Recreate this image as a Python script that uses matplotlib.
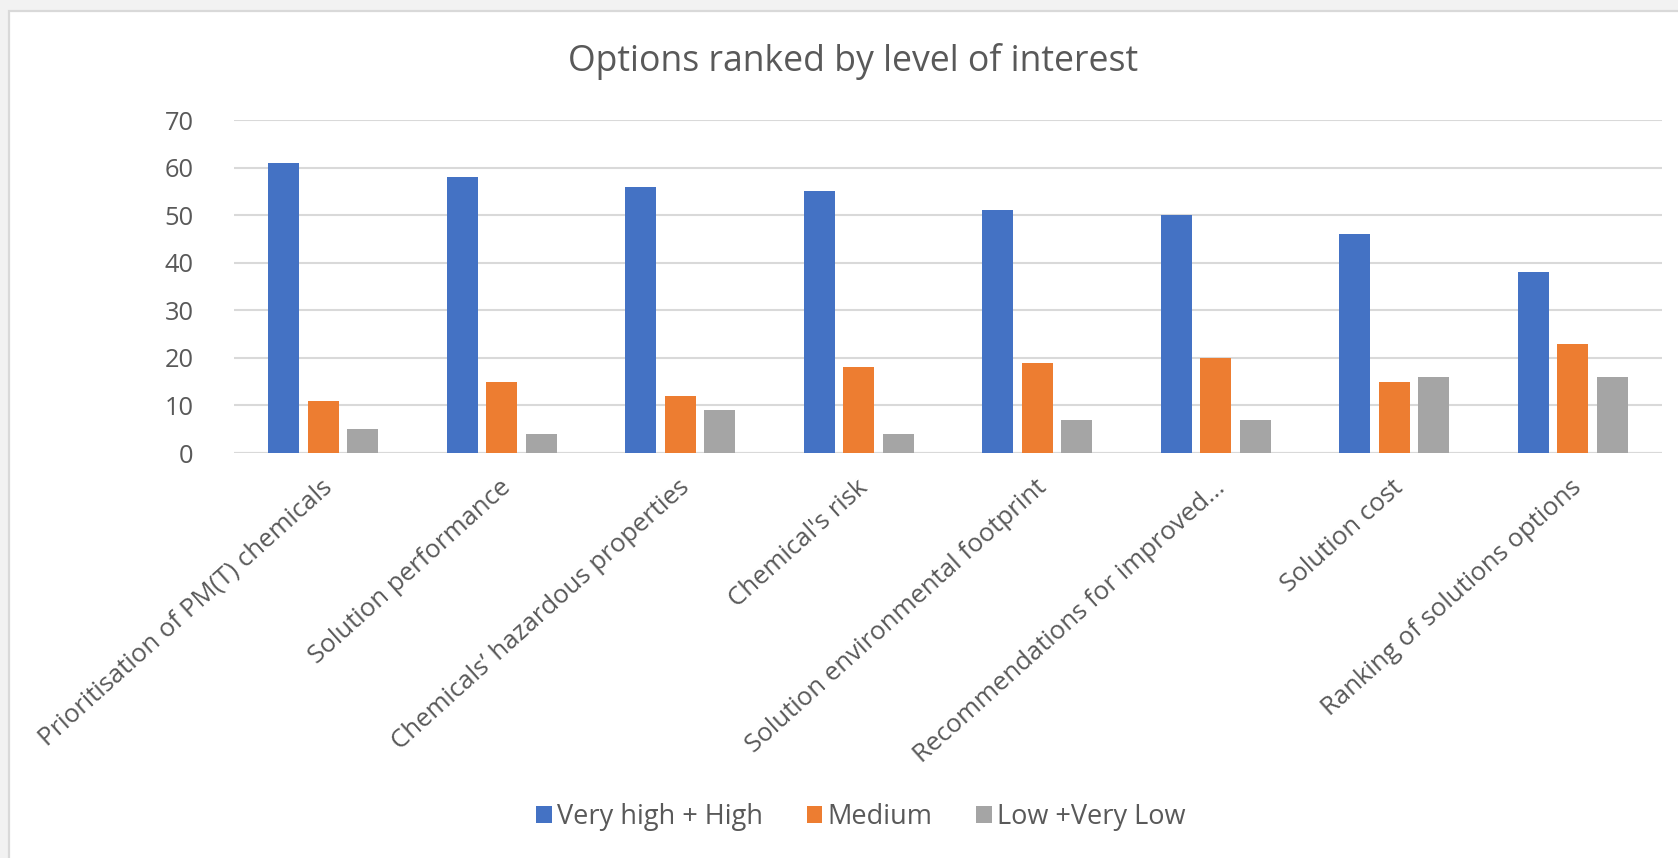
import matplotlib
matplotlib.use("Agg")
import matplotlib.pyplot as plt
import numpy as np
from matplotlib.patches import Rectangle, Patch

categories = [
    "Prioritisation of PM(T) chemicals",
    "Solution performance",
    "Chemicals\u2019 hazardous properties",
    "Chemical's risk",
    "Solution environmental footprint",
    "Recommendations for improved...",
    "Solution cost",
    "Ranking of solutions options",
]
series_names = ["Very high + High", "Medium", "Low +Very Low"]
very_high_high = [61, 58, 56, 55, 51, 50, 46, 38]
medium = [11, 15, 12, 18, 19, 20, 15, 23]
low_very_low = [5, 4, 9, 4, 7, 7, 16, 16]
colors = ["#4472C4", "#ED7D31", "#A5A5A5"]
y_ticks = [0, 10, 20, 30, 40, 50, 60, 70]

plt.rcParams['font.family'] = ['Open Sans', 'DejaVu Sans']
text_color = "#595959"
grid_color = "#D9D9D9"

W, H = 1678, 858
fig = plt.figure(figsize=(W / 100, H / 100), dpi=100, facecolor="#F2F2F2")

# white chart area with light border
fig.patches.append(Rectangle((9 / W, -0.1), 1.2, 1 - 11 / H + 0.1, transform=fig.transFigure,
                             facecolor="white", edgecolor=grid_color, lw=1.6, zorder=-10))

ax_left, ax_right, ax_top, ax_bottom = 234, 1662, 120, 453
ax = fig.add_axes([ax_left / W, 1 - ax_bottom / H, (ax_right - ax_left) / W, (ax_bottom - ax_top) / H])
ax.set_facecolor("none")
ax.set_zorder(5)

x = np.arange(len(categories))
bw = 0.1736
pitch = 0.221
series = [very_high_high, medium, low_very_low]
for k, (vals, c, name) in enumerate(zip(series, colors, series_names)):
    ax.bar(x + (k - 1) * pitch, vals, width=bw, color=c, label=name, zorder=3)

ax.set_xlim(-0.5, len(categories) - 0.5)
ax.set_ylim(0, 70)
ax.set_yticks(y_ticks)
ax.set_yticklabels([str(v) for v in y_ticks])
ax.yaxis.grid(True, color=grid_color, lw=1.5, zorder=0)
ax.set_axisbelow(True)
for s in ax.spines.values():
    s.set_visible(False)
ax.axhline(0, color=grid_color, lw=1.5, zorder=2)
ax.tick_params(axis='y', length=0, pad=29, labelsize=18.3, labelcolor=text_color)
ax.tick_params(axis='x', length=0, pad=16, labelsize=18.5, labelcolor=text_color)
ax.set_xticks(x - 0.015)
ax.set_xticklabels(categories, rotation=42, ha='right', va='top', rotation_mode='anchor')

fig.text(853 / W, 1 - 70.7 / H, "Options ranked by level of interest", ha='center', va='baseline',
         fontsize=25.7, color=text_color)

handles = [Patch(facecolor=c, edgecolor='none') for c in colors]
fig.legend(handles, series_names, loc='center', bbox_to_anchor=(861 / W, 1 - 817 / H), ncol=3,
           frameon=False, fontsize=19.5, labelcolor=text_color, handlelength=0.58, handleheight=0.6,
           handletextpad=0.2, columnspacing=1.6)

fig.savefig("out.png", dpi=100, facecolor=fig.get_facecolor())
